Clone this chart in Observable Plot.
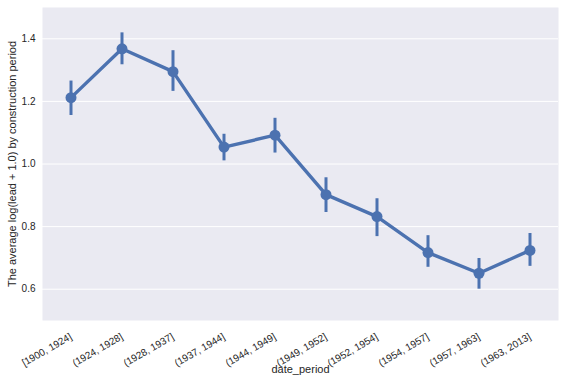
<!DOCTYPE html>
<html><head><meta charset="utf-8">
<script src="https://cdn.jsdelivr.net/npm/d3@7"></script>
<script src="https://cdn.jsdelivr.net/npm/@observablehq/plot@0.6"></script>
<style>
body{margin:0;background:#fff;}
svg{font-family:"Liberation Sans",Arial,sans-serif;}
</style>
</head><body>
<div id="chart"></div>
<script>
const periods = ["[1900, 1924]","(1924, 1928]","(1928, 1937]","(1937, 1944]","(1944, 1949]","(1949, 1952]","(1952, 1954]","(1954, 1957]","(1957, 1963]","(1963, 2013]"];
const means = [1.212, 1.368, 1.295, 1.054, 1.092, 0.902, 0.832, 0.717, 0.651, 0.724];
const ciLow = [1.155, 1.317, 1.232, 1.010, 1.035, 0.845, 0.768, 0.670, 0.600, 0.673];
const ciHigh = [1.265, 1.419, 1.362, 1.095, 1.146, 0.956, 0.889, 0.771, 0.698, 0.778];
const yTicks = [0.6, 0.8, 1.0, 1.2, 1.4];

const data = periods.map((p, i) => ({p, m: means[i], lo: ciLow[i], hi: ciHigh[i]}));
const color = "#4C72B0";

const chart = Plot.plot({
  width: 565, height: 385,
  marginLeft: 42, marginRight: 7, marginTop: 7, marginBottom: 65,
  style: {fontFamily: "Liberation Sans, Arial, sans-serif", fontSize: "10px", color: "#262626", background: "#fff"},
  x: {type: "band", domain: periods, padding: 0, label: null, axis: null},
  y: {domain: [0.5, 1.5], label: null},
  marks: [
    Plot.frame({fill: "#EAEAF2", stroke: null}),
    Plot.gridY(yTicks, {stroke: "#fff", strokeOpacity: 1, strokeWidth: 1}),
    Plot.axisY(yTicks, {tickSize: 0, tickPadding: 7, tickFormat: d3.format(".1f"), fontSize: 10, label: null}),
    Plot.text(periods, {x: d => d, frameAnchor: "bottom", dy: 12, dx: -2, textAnchor: "end", lineAnchor: "top", rotate: -30, fontSize: 10, fill: "#262626"}),
    Plot.ruleX(data, {x: "p", y1: "lo", y2: "hi", stroke: color, strokeWidth: 3}),
    Plot.line(data, {x: "p", y: "m", stroke: color, strokeWidth: 3.4}),
    Plot.dot(data, {x: "p", y: "m", r: 5.5, fill: color, stroke: null}),
    Plot.text(["The average log(lead + 1.0) by construction period"], {frameAnchor: "left", textAnchor: "middle", dx: -30, rotate: -90, fontSize: 11, fill: "#262626"}),
    Plot.text(["date_period"], {frameAnchor: "bottom", textAnchor: "middle", dy: 52, fontSize: 11, fill: "#262626"})
  ]
});
document.getElementById("chart").append(chart);
</script>
</body></html>
